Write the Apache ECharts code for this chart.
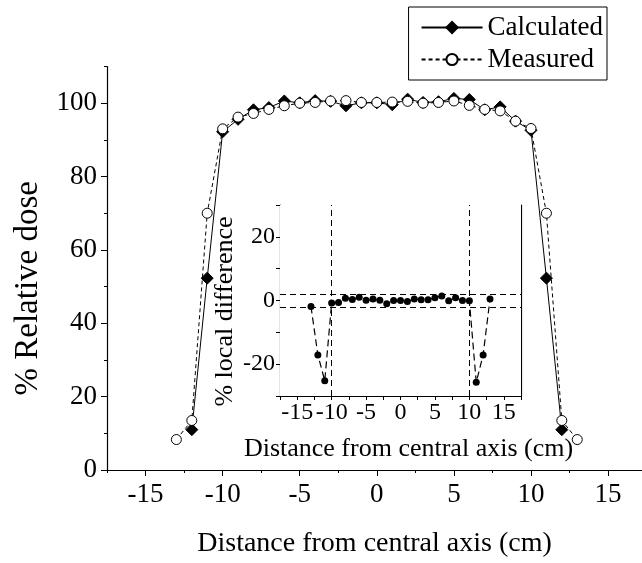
<!DOCTYPE html>
<html>
<head>
<meta charset="utf-8">
<script src="https://cdn.jsdelivr.net/npm/echarts@6/dist/echarts.min.js"></script>
<style>
html,body{margin:0;padding:0;background:#fff;}
#c{width:642px;height:563px;}
</style>
</head>
<body>
<div id="c"></div>
<script>
// ---- data ----
const xCalc = [-12,-11,-10,-9,-8,-7,-6,-5,-4,-3,-2,-1,0,1,2,3,4,5,6,7,8,9,10,11,12];
const calculated = [11,52.3,92.2,95.6,98.2,98.8,100.6,100.1,100.7,100.5,99.3,100.1,100.1,99.6,101.1,100.2,100.4,101.3,101.0,98.2,99.0,95.1,92.6,52.3,11];
const xMeas = [-13,-12,-11,-10,-9,-8,-7,-6,-5,-4,-3,-2,-1,0,1,2,3,4,5,6,7,8,9,10,11,12,13];
const measured = [8.3,13.5,70,93.0,96.2,97.2,98.3,99.3,100,100.2,100.6,100.7,100.2,100.2,100.3,100.5,100,100.2,100.6,99.4,98.3,97.9,95.1,93.1,70,13.5,8.3];
const xDiff = [-13,-12,-11,-10,-9,-8,-7,-6,-5,-4,-3,-2,-1,0,1,2,3,4,5,6,7,8,9,10,11,12,13];
const localDiff = [-1.9,-17.1,-25.2,-0.8,-0.6,0.7,0.3,1.0,0.1,0.5,0.1,-1.0,0,0,-0.3,0.5,0.2,0.2,0.9,1.4,-0.1,0.9,0,-0.1,-25.7,-17.1,0.5];
const mainXLabels = [-15,-10,-5,0,5,10,15];
const mainXMinor = [-17.5,-12.5,-7.5,-2.5,2.5,7.5,12.5];
const mainYLabels = [0,20,40,60,80,100];
const mainYMinor = [10,30,50,70,90,110];
const insetYLabels = [-20,0,20];
const toleranceLines = [2,-2];
const fieldEdges = [-10,10];

const pair = (xs, ys) => xs.map((x,i)=>[x, ys[i]]);
const FONT = 'Liberation Serif';
const black = '#000';

const chart = echarts.init(document.getElementById('c'), null, {renderer:'canvas'});
const line = {show:true, onZero:false, lineStyle:{color:black, width:1.2}};
const noLine = {show:false, onZero:false};
const option = {
  backgroundColor:'#fff',
  animation:false,
  textStyle:{fontFamily:FONT, color:black},
  legend:{
    orient:'vertical', right:35, top:7,
    backgroundColor:'#fff',
    borderColor:black, borderWidth:1, borderRadius:0,
    padding:[7,4,7,12], itemGap:5, itemWidth:61, itemHeight:14,
    textStyle:{fontFamily:FONT, fontSize:27, lineHeight:27, color:black},
    data:['Calculated','Measured']
  },
  grid:[
    {left:107, right:0, top:66.5, bottom:84, containLabel:false},
    {left:280, width:241, top:205, height:191, containLabel:false, z:5, show:true, backgroundColor:'#fff', borderWidth:0}
  ],
  xAxis:[
    {
      type:'value', gridIndex:0, min:-17.5, max:17.2, position:'bottom',
      axisLine:line, splitLine:{show:false},
      name:'Distance from central axis (cm)', nameLocation:'middle', nameGap:60,
      nameTextStyle:{fontFamily:FONT, fontSize:28, color:black},
      axisTick:{show:true, length:6, customValues:mainXLabels, lineStyle:{color:black}},
      axisLabel:{fontFamily:FONT, fontSize:27, color:black, margin:11, customValues:mainXLabels}
    },
    {type:'value', gridIndex:0, min:-17.5, max:17.2, position:'bottom', offset:0,
      axisLine:noLine, splitLine:{show:false}, axisLabel:{show:false},
      axisTick:{show:true, length:3, customValues:mainXMinor, lineStyle:{color:black}}},
    {
      type:'value', gridIndex:1, min:-17.5, max:17.5, interval:2.5, position:'bottom',
      axisLine:line, splitLine:{show:false},
      name:'Distance from central axis (cm)', nameLocation:'middle', nameGap:40,
      nameTextStyle:{fontFamily:FONT, fontSize:26, color:black, padding:[0,0,0,16]},
      axisTick:{show:true, length:4, lineStyle:{color:black}},
      axisLabel:{fontFamily:FONT, fontSize:24, color:black, margin:5, interval:0,
        formatter:v => (Math.abs(v % 5) < 1e-9 ? String(v) : '')}
    },
    {
      type:'value', gridIndex:1, min:-17.5, max:17.5, interval:2.5, position:'top',
      axisLine:line, splitLine:{show:false},
      axisTick:{show:true, inside:true, length:4, lineStyle:{color:black}},
      axisLabel:{show:false}
    }
  ],
  yAxis:[
    {
      type:'value', gridIndex:0, min:0, max:110, position:'left',
      axisLine:line, splitLine:{show:false},
      name:'% Relative dose', nameLocation:'middle', nameGap:62,
      nameTextStyle:{fontFamily:FONT, fontSize:33, color:black, padding:[0,40,0,0]},
      axisTick:{show:true, length:6, customValues:mainYLabels, lineStyle:{color:black}},
      axisLabel:{fontFamily:FONT, fontSize:27, color:black, margin:10, customValues:mainYLabels}
    },
    {type:'value', gridIndex:0, min:0, max:110, position:'left', offset:0,
      axisLine:noLine, splitLine:{show:false}, axisLabel:{show:false},
      axisTick:{show:true, length:3, customValues:mainYMinor, lineStyle:{color:black}}},
    {
      type:'value', gridIndex:1, min:-30, max:30, interval:10, position:'left',
      axisLine:line, splitLine:{show:false},
      name:'% local difference', nameLocation:'middle', nameGap:42,
      nameTextStyle:{fontFamily:FONT, fontSize:26, color:black, padding:[0,22,0,0]},
      axisTick:{show:true, length:4, lineStyle:{color:black}},
      axisLabel:{fontFamily:FONT, fontSize:24, color:black, margin:5, interval:0,
        formatter:v => (insetYLabels.indexOf(v) >= 0 ? String(v) : '')}
    },
    {
      type:'value', gridIndex:1, min:-30, max:30, interval:10, position:'right',
      axisLine:line, splitLine:{show:false},
      axisTick:{show:true, inside:true, length:4, lineStyle:{color:black}},
      axisLabel:{show:false}
    }
  ],
  series:[
    {
      name:'Calculated', type:'line', xAxisIndex:0, yAxisIndex:0,
      data:pair(xCalc, calculated),
      symbol:'diamond', symbolSize:12,
      lineStyle:{color:black, width:1, type:'solid'},
      itemStyle:{color:black, borderColor:black, borderWidth:1},
      z:3
    },
    {
      name:'Measured', type:'line', xAxisIndex:0, yAxisIndex:0,
      data:pair(xMeas, measured),
      symbol:'circle', symbolSize:10,
      lineStyle:{color:black, width:1, type:[4,3]},
      itemStyle:{color:'#fff', borderColor:black, borderWidth:1},
      z:4
    },
    {
      name:'diff', type:'line', xAxisIndex:2, yAxisIndex:2,
      data:pair(xDiff, localDiff),
      symbol:'circle', symbolSize:7,
      lineStyle:{color:black, width:1.2, type:[7,4]},
      itemStyle:{color:black},
      z:10,
      markLine:{
        silent:true, symbol:'none', label:{show:false},
        lineStyle:{color:black, width:1, type:[6,4]},
        data:[
          {yAxis:toleranceLines[0]}, {yAxis:toleranceLines[1]},
          {xAxis:fieldEdges[0]}, {xAxis:fieldEdges[1]}
        ]
      }
    }
  ]
};
chart.setOption(option);
</script>
</body>
</html>
